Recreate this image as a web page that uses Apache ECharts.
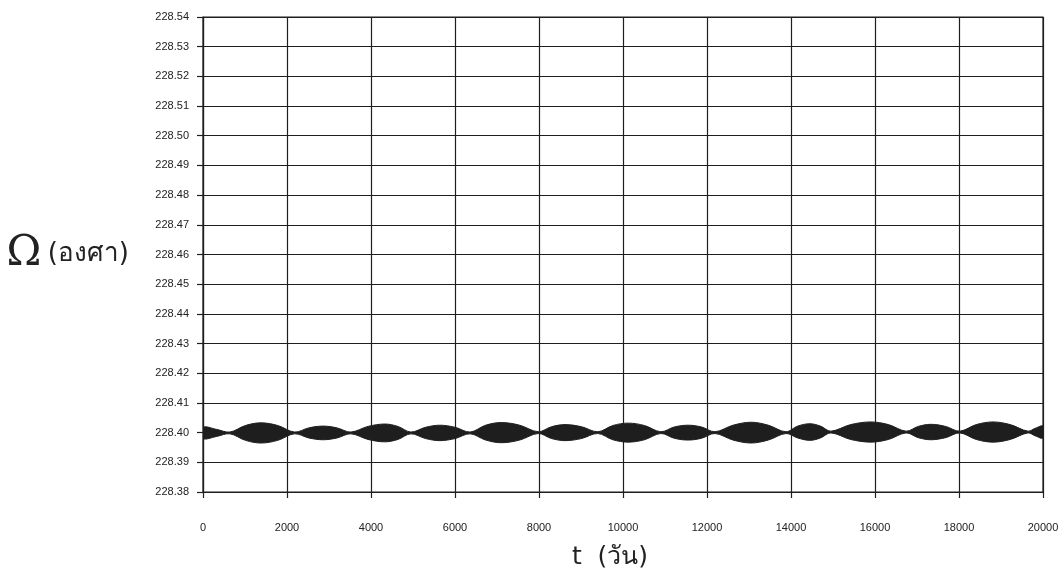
<!DOCTYPE html>
<html><head><meta charset="utf-8">
<script src="https://cdn.jsdelivr.net/npm/echarts@6/dist/echarts.min.js"></script>
<style>html,body{margin:0;padding:0;background:#fff}#c{width:1063px;height:575px}</style>
</head><body><div id="c"></div>
<script>
// time in days (x) and the read-off upper / lower edges of the dense oscillation band
const tDays = [0,320,640,1010,1380,1780,2180,2520,2860,3190,3520,3930,4330,4640,4950,5300,5640,6000,6360,
  6730,7100,7540,7980,8300,8620,9010,9400,9760,10120,10510,10900,11220,11550,11870,12190,12620,13050,13460,13880,
  14160,14450,14700,14950,15420,15900,16320,16740,17030,17330,17680,18020,18410,18810,19220,19640,19820,20000];
const upperEnvelope = [228.4018,228.4011,228.4002,228.4024,228.4033,228.4024,228.4002,228.4016,228.4022,228.4016,228.4002,228.4021,228.4029,228.4021,228.4002,228.4018,228.4025,228.4018,228.4002,
  228.4025,228.4034,228.4025,228.4003,228.4020,228.4027,228.4020,228.4003,228.4024,228.4032,228.4024,228.4003,228.4019,228.4025,228.4019,228.4003,228.4025,228.4035,228.4025,228.4003,
  228.4022,228.4030,228.4022,228.4005,228.4027,228.4036,228.4027,228.4005,228.4021,228.4028,228.4021,228.4005,228.4027,228.4036,228.4027,228.4005,228.4015,228.4022];
const lowerEnvelope = [228.3980,228.3987,228.3996,228.3974,228.3965,228.3974,228.3996,228.3982,228.3976,228.3982,228.3996,228.3977,228.3969,228.3977,228.3996,228.3980,228.3973,228.3980,228.3996,
  228.3975,228.3966,228.3975,228.3997,228.3980,228.3973,228.3980,228.3997,228.3976,228.3968,228.3976,228.3997,228.3981,228.3975,228.3981,228.3997,228.3975,228.3965,228.3975,228.3997,
  228.3982,228.3974,228.3982,228.3999,228.3977,228.3968,228.3977,228.3999,228.3983,228.3976,228.3983,228.3999,228.3977,228.3968,228.3977,228.3999,228.3989,228.3982];
const xTickLabels = ['0','2000','4000','6000','8000','10000','12000','14000','16000','18000','20000'];
const yTickLabels = ['228.38','228.39','228.40','228.41','228.42','228.43','228.44','228.45','228.46','228.47','228.48','228.49','228.50','228.51','228.52','228.53','228.54'];
const xAxisTitle = 't  (วัน)';
const yAxisSymbol = 'Ω';
const yAxisUnit = '(องศา)';

const xMin = Number(xTickLabels[0]), xMax = Number(xTickLabels[xTickLabels.length-1]);
const xStep = Number(xTickLabels[1]) - xMin;
const yMin = Number(yTickLabels[0]), yMax = Number(yTickLabels[yTickLabels.length-1]);
const yStep = 0.01;

const ink = '#1e1e1e';
const bandData = tDays.map((t,i)=>[t, upperEnvelope[i], lowerEnvelope[i]]);
const chart = echarts.init(document.getElementById('c'), null, {renderer:'canvas'});
chart.setOption({
  animation:false,
  backgroundColor:'#ffffff',
  grid:{left:203,right:20,top:17,bottom:83,outerBoundsMode:'none',containLabel:false,
    show:true,borderColor:ink,borderWidth:1.2,backgroundColor:'transparent'},
  xAxis:{
    type:'value',min:xMin,max:xMax,interval:xStep,
    axisLine:{show:true,lineStyle:{color:ink,width:1.2}},
    axisTick:{show:true,length:6,lineStyle:{color:ink,width:1.2}},
    splitLine:{show:true,lineStyle:{color:ink,width:1.2}},
    axisLabel:{margin:30,color:'#222',fontFamily:'Liberation Sans, Arial, sans-serif',fontSize:11,
      formatter:(v)=>xTickLabels[Math.round((v-xMin)/xStep)]},
    name:xAxisTitle,nameLocation:'middle',nameGap:53,
    nameTextStyle:{fontFamily:'DejaVu Sans, Noto Sans, sans-serif',fontSize:25,color:'#222',padding:[0,26,0,0]}
  },
  yAxis:{
    type:'value',min:yMin,max:yMax,interval:yStep,
    axisLine:{show:true,lineStyle:{color:ink,width:1.2}},
    axisTick:{show:true,length:6,lineStyle:{color:ink,width:1.2}},
    splitLine:{show:true,lineStyle:{color:ink,width:1.2}},
    axisLabel:{margin:14,color:'#222',fontFamily:'Liberation Sans, Arial, sans-serif',fontSize:11,
      formatter:(v)=>yTickLabels[Math.round((v-yMin)/yStep)]},
    name:'{s|'+yAxisSymbol+'} {u|'+yAxisUnit+'}',nameLocation:'middle',nameRotate:0,nameGap:74,
    nameTextStyle:{rich:{
      s:{fontFamily:'DejaVu Serif, Liberation Serif, serif',fontSize:42,color:'#222',padding:[0,3,0,0]},
      u:{fontFamily:'DejaVu Sans, Noto Sans, sans-serif',fontSize:26,color:'#222'}}}
  },
  series:[{
    type:'custom',silent:true,
    data:bandData,
    encode:{x:0,y:[1,2]},
    clip:true,
    renderItem:function(params, api){
      if (params.dataIndex !== 0) return null;
      const top = bandData.map(d=>api.coord([d[0], d[1]]));
      const bot = bandData.map(d=>api.coord([d[0], d[2]])).reverse();
      return {
        type:'group',
        children:[
          {type:'polygon',shape:{points:top.concat(bot),smooth:0.35},style:{fill:ink,stroke:ink,lineWidth:1}}
        ]
      };
    }
  }]
});
</script>
</body></html>
